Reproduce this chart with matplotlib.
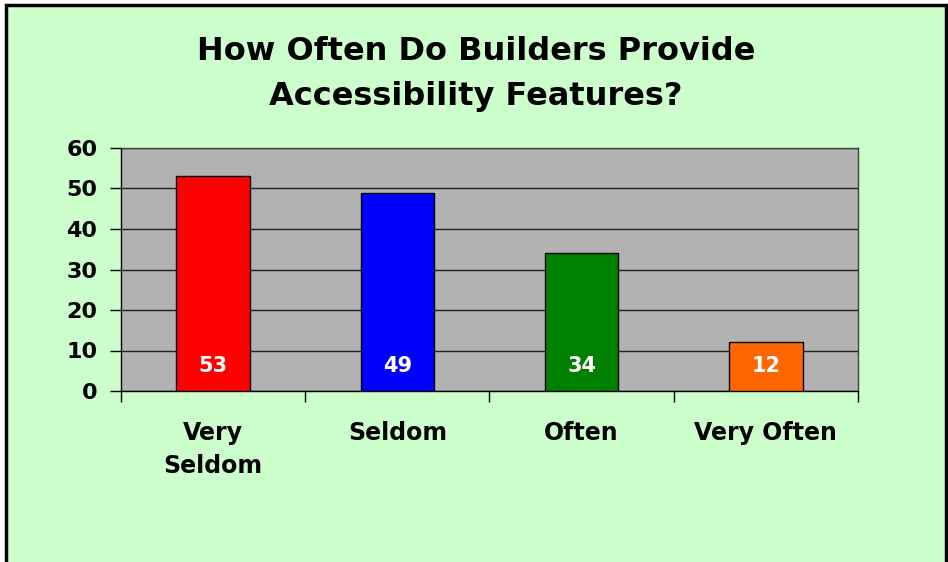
import matplotlib
matplotlib.use("Agg")
import matplotlib.pyplot as plt
from matplotlib.patches import Rectangle

categories = ["Very\nSeldom", "Seldom", "Often", "Very Often"]
values = [53, 49, 34, 12]
bar_colors = ["#FF0000", "#0000FF", "#008000", "#FF6600"]
yticks = [0, 10, 20, 30, 40, 50, 60]

plt.rcParams['font.family'] = ['DejaVu Sans']
plt.rcParams['font.weight'] = 'bold'

fig = plt.figure(figsize=(9.48, 5.62), dpi=100)
fig.patch.set_facecolor("white")

# chart area background with border (left, top, right)
fig.patches.append(Rectangle((6 / 948, -0.05), 940 / 948, 1.05 - 5 / 562,
                             transform=fig.transFigure, facecolor="#CCFFCC",
                             edgecolor="black", linewidth=2.5, zorder=-5))

ax = fig.add_axes([121 / 948, 1 - 391 / 562, 737 / 948, 243 / 562])
ax.set_facecolor("#B2B2B2")

x = range(len(categories))
ax.bar(x, values, width=0.4, color=bar_colors, edgecolor="black",
       linewidth=1, zorder=3)
for i, v in enumerate(values):
    ax.text(i, 6.2, str(v), color="white", fontsize=15, fontweight="bold",
            ha="center", va="center", zorder=4)

ax.set_xlim(-0.5, len(categories) - 0.5)
ax.set_ylim(0, 60)
ax.set_yticks(yticks)
ax.set_yticklabels([str(t) for t in yticks], fontsize=16, fontweight="bold")
ax.yaxis.grid(True, color="#202020", linewidth=1, zorder=1)
ax.set_axisbelow(True)

ax.set_xticks([i - 0.5 for i in range(len(categories) + 1)])
ax.set_xticklabels([])
ax.tick_params(axis="x", direction="out", length=8, width=1, color="black")
ax.tick_params(axis="y", direction="out", length=8, width=1, color="black",
               pad=9)
for i, c in enumerate(categories):
    ax.text(i, -7.3, c, fontsize=17, fontweight="bold", ha="center", va="top",
            linespacing=1.52, transform=ax.transData)

for s in ["left", "bottom"]:
    ax.spines[s].set_color("black")
    ax.spines[s].set_linewidth(1)
for s in ["top", "right"]:
    ax.spines[s].set_color("#404040")
    ax.spines[s].set_linewidth(1)

fig.text(476 / 948, 1 - 74 / 562,
         "How Often Do Builders Provide\nAccessibility Features?",
         fontsize=23, fontweight="bold", ha="center", va="center",
         linespacing=1.55)

fig.savefig("out.png", dpi=100, facecolor=fig.get_facecolor())
